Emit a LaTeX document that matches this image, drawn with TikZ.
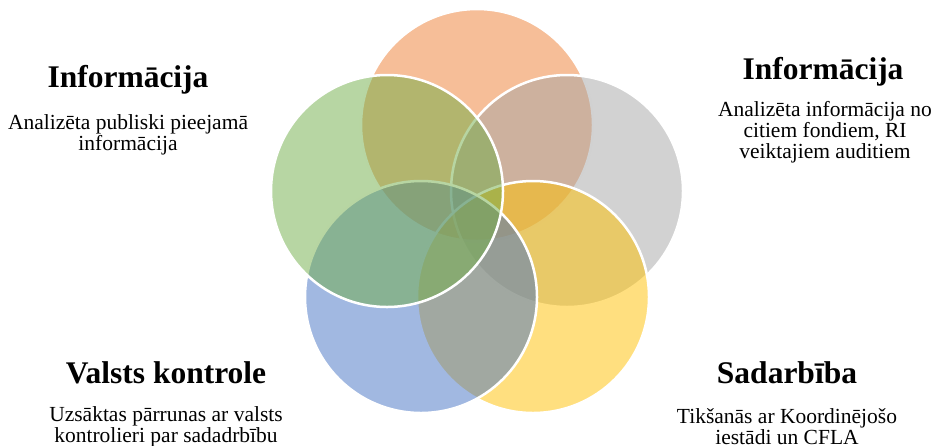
\documentclass[tikz,border=0pt]{standalone}
\usepackage{fontspec}
\setmainfont{Liberation Serif}
\definecolor{corange}{HTML}{ED7D31}
\definecolor{cgray}{HTML}{A5A5A5}
\definecolor{cyellow}{HTML}{FFC000}
\definecolor{cblue}{HTML}{4472C4}
\definecolor{cgreen}{HTML}{70AD47}
\begin{document}
\begin{tikzpicture}[x=1pt,y=-1pt,
  circ/.style={circle, inner sep=0pt, outer sep=0pt, minimum size=232pt, fill opacity=0.5, draw=white, line width=2.5pt},
  ttl/.style={font=\fontsize{31.5}{34}\selectfont\bfseries, inner sep=0pt},
  body/.style={font=\fontsize{21.5}{21}\selectfont, align=center, inner sep=0pt}]
\useasboundingbox (0,0) rectangle (933,445);
\node[circ, fill=corange] (c1) at (477,125) {};
\node[circ, fill=cgray]   (c2) at (567,191) {};
\node[circ, fill=cyellow] (c3) at (533,297) {};
\node[circ, fill=cblue]   (c4) at (421,297) {};
\node[circ, fill=cgreen]  (c5) at (387,191) {};
\node[ttl] (t1) at (128,80) {Informācija};
\node[body] (b1) at (128,135) {Analizēta publiski pieejamā\\informācija};
\node[ttl] (t2) at (823,72) {Informācija};
\node[body] (b2) at (825,132) {Analizēta informācija no\\citiem fondiem, RI\\veiktajiem auditiem};
\node[ttl] (t3) at (166,373) {Valsts kontrole};
\node[body] (b3) at (166,427) {Uzsāktas pārrunas ar valsts\\kontrolieri par sadadrbību};
\node[ttl] (t4) at (787,373) {Sadarbība};
\node[body] (b4) at (787,427) {Tikšanās ar Koordinējošo\\iestādi un CFLA};
\end{tikzpicture}
\end{document}
